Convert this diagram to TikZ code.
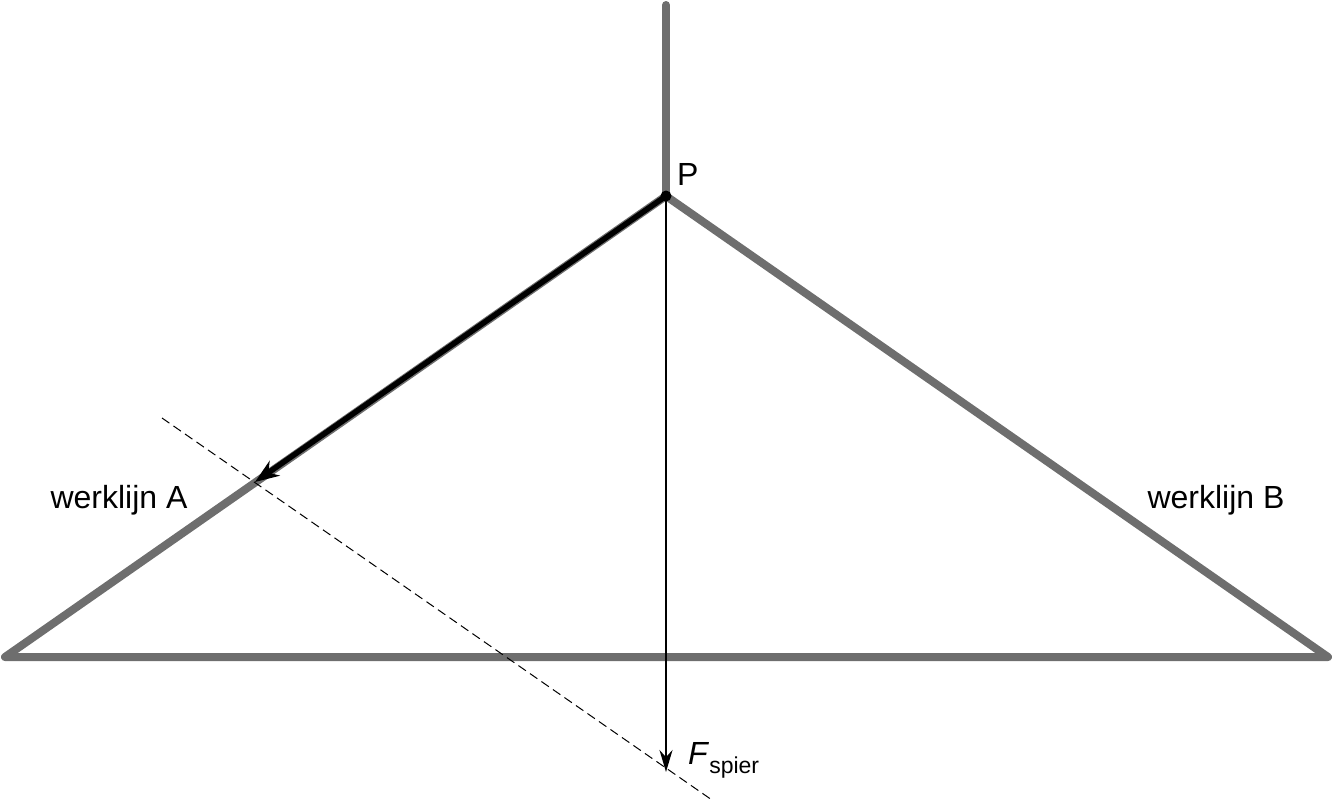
\documentclass[tikz,border=0pt]{standalone}
\usepackage{fontspec}
\setmainfont{Liberation Sans}
\usetikzlibrary{arrows.meta}
\definecolor{lg}{RGB}{110,110,110}
\begin{document}
\begin{tikzpicture}[x=1pt,y=-1pt,
  beam/.style={draw=lg,line width=8pt,line cap=round,line join=round},
  lbl/.style={font=\fontsize{32}{36}\selectfont,inner sep=0pt}]
\useasboundingbox (0,0) rectangle (1334,803);
\coordinate (top) at (666,5);
\coordinate (P) at (666,196);
\coordinate (L) at (5,657);
\coordinate (R) at (1328,657);
\coordinate (A) at (255,482);
\coordinate (d1) at (162,418);
\coordinate (d2) at (712,800);
\coordinate (F) at (666,772);
\draw[beam] (top) -- (P);
\draw[beam] (L) -- (P) -- (R) -- cycle;
\draw[line width=5.5pt,-{Stealth[length=24pt,width=18pt]}] (P) -- (A);
\draw[line width=1pt,dash pattern=on 9pt off 5pt] (d1) -- (d2);
\draw[line width=2pt,-{Stealth[length=22pt,width=13pt]}] (P) -- (F);
\fill (P) circle (5.5pt);
\node[lbl,anchor=south west] (pl) at (677,186) {P};
\node[lbl] (wa) at (119,500) {werklijn A};
\node[lbl] (wb) at (1216,500) {werklijn B};
\node[lbl,anchor=west] (fs) at (688,760) {\textit{F}\raisebox{-9pt}{\fontsize{23}{26}\selectfont spier}};
\end{tikzpicture}
\end{document}
